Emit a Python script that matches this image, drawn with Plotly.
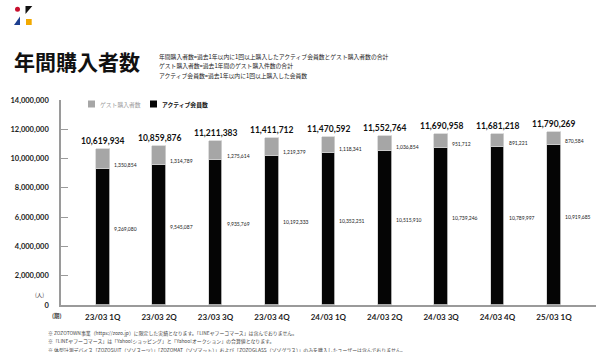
import plotly.graph_objects as go

categories = ["23/03 1Q", "23/03 2Q", "23/03 3Q", "23/03 4Q", "24/03 1Q",
              "24/03 2Q", "24/03 3Q", "24/03 4Q", "25/03 1Q"]
active = [9269080, 9545087, 9935769, 10192333, 10352251,
          10515910, 10739246, 10789997, 10919685]
guest = [1350854, 1314789, 1275614, 1219379, 1118341,
         1036854, 951712, 891221, 870584]
totals = [10619934, 10859876, 11211383, 11411712, 11470592,
          11552764, 11690958, 11681218, 11790269]
y_ticks = [0, 2000000, 4000000, 6000000, 8000000, 10000000, 12000000, 14000000]

title = "年間購入者数"
definitions = [
    "年間購入者数=過去1年以内に1回以上購入したアクティブ会員数とゲスト購入者数の合計",
    "ゲスト購入者数=過去1年間のゲスト購入件数の合計",
    "アクティブ会員数=過去1年以内に1回以上購入した会員数",
]
footnotes = [
    "※ ZOZOTOWN事業（https://zozo.jp）に限定した実績となります。「LINEヤフーコマース」は含んでおりません。",
    "※「LINEヤフーコマース」は「Yahoo!ショッピング」と「Yahoo!オークション」の合算値となります。",
    "※ 体型計測デバイス「ZOZOSUIT（ゾゾスーツ）」「ZOZOMAT（ゾゾマット）」および「ZOZOGLASS（ゾゾグラス）」のみを購入したユーザーは含んでおりません。",
]
legend_names = ["ゲスト購入者数", "アクティブ会員数"]

W, H = 600, 352
ML, MR, MT, MB = 61, 4, 100, 47
PW, PH = W - ML - MR, H - MT - MB


def px(x):
    return (x - ML) / PW


def py(y):
    return (H - MB - y) / PH


JP = "Noto Sans CJK JP"
NUM = "Lato, Noto Sans CJK JP"
GUEST_C = "#a6a6a6"
ACT_C = "#050505"

fig = go.Figure()
fig.add_bar(x=categories, y=active, name=legend_names[1], marker_color=ACT_C,
            marker_line=dict(color="#d4d4d4", width=0.8), width=0.24, showlegend=False)
fig.add_bar(x=categories, y=guest, name=legend_names[0], marker_color=GUEST_C,
            marker_line=dict(color="#d4d4d4", width=0.8), width=0.24, showlegend=False)

ann = []
for c, a, g, t in zip(categories, active, guest, totals):
    ann.append(dict(x=c, y=t, text=f"<b>{t:,}</b>", showarrow=False, yanchor="bottom",
                    yshift=1, font=dict(family=NUM, size=8.5, color="#111")))
    ann.append(dict(x=c, y=a, text=f"{g:,}", showarrow=False, xanchor="left", yanchor="bottom",
                    xshift=9, yshift=-1, font=dict(family=NUM, size=5, color="#222")))
    ann.append(dict(x=c, y=a / 2, text=f"{a:,}", showarrow=False, xanchor="left",
                    xshift=9, yshift=8, font=dict(family=NUM, size=5, color="#222")))

ann.append(dict(xref="paper", yref="paper", x=px(12), y=py(61), text=f"<b>{title}</b>",
                showarrow=False, xanchor="left", yanchor="middle",
                font=dict(family=JP, size=21, color="#111")))
for i, line in enumerate(definitions):
    ann.append(dict(xref="paper", yref="paper", x=px(157), y=py(56 + i * 9.6), text=line,
                    showarrow=False, xanchor="left", yanchor="middle",
                    font=dict(family=JP, size=5.8, color="#222")))
for i, line in enumerate(footnotes):
    ann.append(dict(xref="paper", yref="paper", x=px(46), y=py(332.5 + i * 8.8), text=line,
                    showarrow=False, xanchor="left", yanchor="middle",
                    font=dict(family=JP, size=4.9, color="#444")))

# legend
ann.append(dict(xref="paper", yref="paper", x=px(98), y=py(104), text=legend_names[0],
                showarrow=False, xanchor="left", yanchor="middle",
                font=dict(family=JP, size=5.8, color="#9a9a9a")))
ann.append(dict(xref="paper", yref="paper", x=px(160), y=py(104), text=f"<b>{legend_names[1]}</b>",
                showarrow=False, xanchor="left", yanchor="middle",
                font=dict(family=JP, size=5.8, color="#111")))
ann.append(dict(xref="paper", yref="paper", x=px(39), y=py(295), text="(人)",
                showarrow=False, xanchor="center", yanchor="middle",
                font=dict(family=JP, size=5.5, color="#333")))
ann.append(dict(xref="paper", yref="paper", x=px(57), y=py(316), text="<b>(期)</b>",
                showarrow=False, xanchor="center", yanchor="middle",
                font=dict(family=JP, size=5.5, color="#333")))

shapes = [
    dict(type="rect", xref="paper", yref="paper", x0=px(88), x1=px(95), y0=py(107.5), y1=py(100.5),
         fillcolor=GUEST_C, line_width=0),
    dict(type="rect", xref="paper", yref="paper", x0=px(150), x1=px(157), y0=py(107.5), y1=py(100.5),
         fillcolor=ACT_C, line_width=0),
    # logo
    dict(type="circle", xref="paper", yref="paper", x0=px(15), x1=px(20), y0=py(11.7), y1=py(6.7),
         fillcolor="#c8102e", line_width=0),
    dict(type="path", xref="paper", yref="paper",
         path=f"M {px(25.5)},{py(6)} L {px(32.3)},{py(6)} L {px(25.5)},{py(14)} Z",
         fillcolor="#111", line_width=0),
    dict(type="path", xref="paper", yref="paper",
         path=f"M {px(20)},{py(16.5)} L {px(20)},{py(25)} L {px(14)},{py(25)} Z",
         fillcolor="#1d3f8f", line_width=0),
    dict(type="rect", xref="paper", yref="paper", x0=px(26), x1=px(31.7), y0=py(25), y1=py(19),
         fillcolor="#f2a900", line_width=0),
]

fig.update_layout(
    width=W, height=H, margin=dict(l=ML, r=MR, t=MT, b=MB),
    barmode="stack", bargap=0, plot_bgcolor="white", paper_bgcolor="white",
    annotations=ann, shapes=shapes, showlegend=False,
    xaxis=dict(type="category", range=[-0.74, 8.746], showline=True, linecolor="#9a9a9a",
               linewidth=1.5, ticks="", showgrid=False, zeroline=False,
               tickfont=dict(family=NUM, size=8, color="#222"), ticklabelstandoff=4,
               tickvals=categories, ticktext=[f"<b>{c}</b>" for c in categories]),
    yaxis=dict(range=[0, 14000000], showline=True, linecolor="#9a9a9a", linewidth=1.5,
               ticks="inside", ticklen=7, tickcolor="#9a9a9a", tickwidth=1,
               tickvals=y_ticks, ticktext=[f"<b>{v:,}</b>" for v in y_ticks],
               showgrid=False, zeroline=False, ticklabelstandoff=9,
               tickfont=dict(family=NUM, size=7.5, color="#222")),
)

fig.write_html("out.html")
